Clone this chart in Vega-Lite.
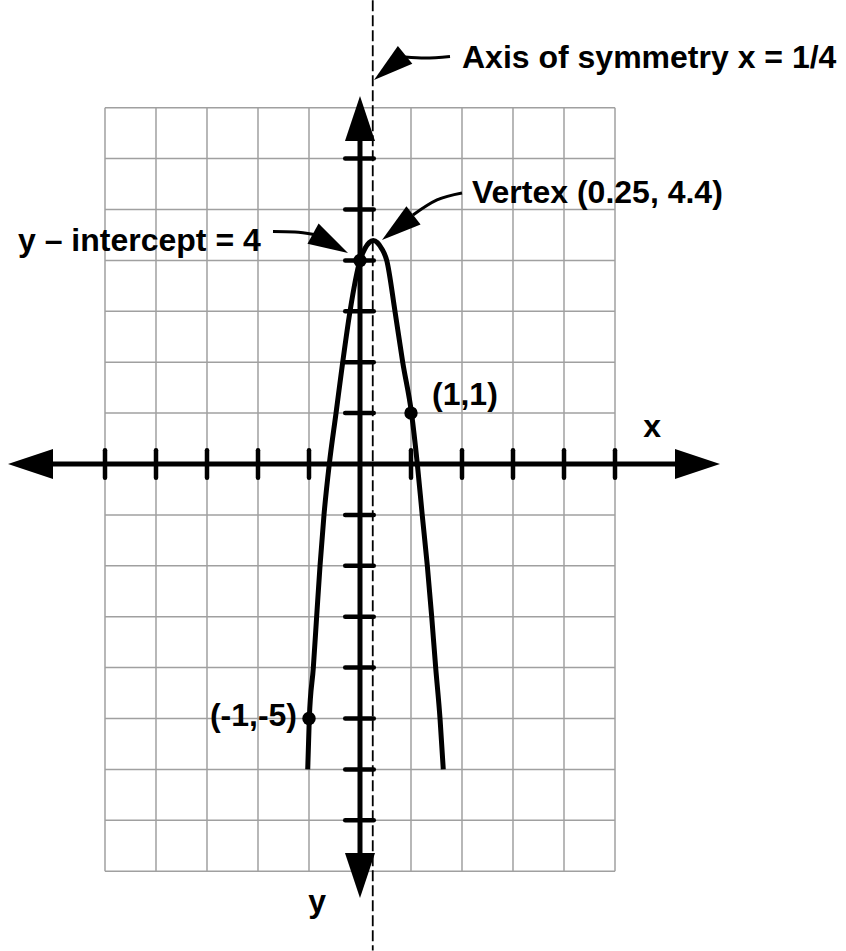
{
  "$schema": "https://vega.github.io/schema/vega-lite/v6.json",
  "width": 846,
  "height": 951,
  "autosize": {"type": "none"},
  "padding": 0,
  "background": "white",
  "config": {"view": {"stroke": null}},
  "datasets": {
    "gridX": [{"v": -5}, {"v": -4}, {"v": -3}, {"v": -2}, {"v": -1}, {"v": 0}, {"v": 1}, {"v": 2}, {"v": 3}, {"v": 4}, {"v": 5}],
    "gridY": [{"v": -8}, {"v": -7}, {"v": -6}, {"v": -5}, {"v": -4}, {"v": -3}, {"v": -2}, {"v": -1}, {"v": 0}, {"v": 1}, {"v": 2}, {"v": 3}, {"v": 4}, {"v": 5}, {"v": 6}, {"v": 7}],
    "ticksX": [{"v": -5}, {"v": -4}, {"v": -3}, {"v": -2}, {"v": -1}, {"v": 1}, {"v": 2}, {"v": 3}, {"v": 4}, {"v": 5}],
    "ticksY": [{"v": -7}, {"v": -6}, {"v": -5}, {"v": -4}, {"v": -3}, {"v": -2}, {"v": -1}, {"v": 1}, {"v": 2}, {"v": 3}, {"v": 4}, {"v": 5}, {"v": 6}],
    "axes": [
      {"name": "x", "x": -6.6, "x2": 6.7, "y": 0, "y2": 0},
      {"name": "y", "x": 0, "x2": 0, "y": 6.9, "y2": -8.2}
    ],
    "symmetry": [{"x": 0.25}],
    "curve": [
      {"x": -1.025, "y": -6}, {"x": -0.994, "y": -5}, {"x": -0.915, "y": -4}, {"x": -0.85, "y": -3},
      {"x": -0.784, "y": -2}, {"x": -0.706, "y": -1}, {"x": -0.602, "y": 0}, {"x": -0.47, "y": 1},
      {"x": -0.339, "y": 2}, {"x": -0.196, "y": 3}, {"x": 0, "y": 4}, {"x": 0.1, "y": 4.24},
      {"x": 0.18, "y": 4.35}, {"x": 0.26, "y": 4.39}, {"x": 0.34, "y": 4.35}, {"x": 0.42, "y": 4.24},
      {"x": 0.524, "y": 4}, {"x": 0.686, "y": 3}, {"x": 0.837, "y": 2}, {"x": 1.01, "y": 1},
      {"x": 1.124, "y": 0}, {"x": 1.22, "y": -1}, {"x": 1.32, "y": -2}, {"x": 1.406, "y": -3},
      {"x": 1.484, "y": -4}, {"x": 1.569, "y": -5}, {"x": 1.633, "y": -6}
    ],
    "shafts": [
      {"id": "sym", "o": 1, "x": 0.882, "y": 7.996}, {"id": "sym", "o": 2, "x": 1.275, "y": 7.976}, {"id": "sym", "o": 3, "x": 1.765, "y": 8.006},
      {"id": "vertex", "o": 1, "x": 1.039, "y": 4.892}, {"id": "vertex", "o": 2, "x": 1.51, "y": 5.187}, {"id": "vertex", "o": 3, "x": 2.0, "y": 5.324},
      {"id": "yint", "o": 1, "x": -1.706, "y": 4.568}, {"id": "yint", "o": 2, "x": -1.275, "y": 4.558}, {"id": "yint", "o": 3, "x": -0.902, "y": 4.509}
    ],
    "axisHeads": [
      {"x": 7.059, "y": 0, "dir": 0},
      {"x": -6.902, "y": 0, "dir": 180},
      {"x": 0, "y": 7.23, "dir": 270},
      {"x": 0, "y": -8.527, "dir": 90}
    ],
    "noteHeads": [
      {"x": 0.2745, "y": 7.544, "dir": 141},
      {"x": 0.431, "y": 4.401, "dir": 142},
      {"x": -0.235, "y": 4.145, "dir": 29}
    ],
    "dots": [{"x": 0, "y": 4}, {"x": 1, "y": 1}, {"x": -1, "y": -5}],
    "labelsLeft": [
      {"label": "Axis of symmetry x = 1/4", "x": 2.0, "y": 7.78},
      {"label": "Vertex (0.25, 4.4)", "x": 2.196, "y": 5.118},
      {"label": "y – intercept = 4", "x": -6.706, "y": 4.185},
      {"label": "(1,1)", "x": 1.412, "y": 1.159},
      {"label": "x", "x": 5.555, "y": 0.53},
      {"label": "y", "x": -1.014, "y": -8.8}
    ],
    "labelsRight": [
      {"label": "(-1,-5)", "x": -1.235, "y": -5.147}
    ]
  },
  "layer": [
    {
      "data": {"name": "gridX"},
      "mark": {"type": "rule", "stroke": "#a0a0a0", "strokeWidth": 1.5},
      "encoding": {
        "x": {"field": "v", "type": "quantitative", "scale": {"domain": [-7.0588, 9.5294], "nice": false, "zero": false}, "axis": null},
        "y": {"datum": -8, "type": "quantitative", "scale": {"domain": [-9.5678, 9.1159], "nice": false, "zero": false}, "axis": null},
        "y2": {"datum": 7}
      }
    },
    {
      "data": {"name": "gridY"},
      "mark": {"type": "rule", "stroke": "#a0a0a0", "strokeWidth": 1.5},
      "encoding": {
        "y": {"field": "v", "type": "quantitative", "scale": {"domain": [-9.5678, 9.1159], "nice": false, "zero": false}, "axis": null},
        "x": {"datum": -5, "type": "quantitative", "scale": {"domain": [-7.0588, 9.5294], "nice": false, "zero": false}, "axis": null},
        "x2": {"datum": 5}
      }
    },
    {
      "data": {"name": "axes"},
      "mark": {"type": "rule", "stroke": "black", "strokeWidth": 5},
      "encoding": {
        "x": {"field": "x", "type": "quantitative", "scale": {"domain": [-7.0588, 9.5294], "nice": false, "zero": false}, "axis": null},
        "x2": {"field": "x2"},
        "y": {"field": "y", "type": "quantitative", "scale": {"domain": [-9.5678, 9.1159], "nice": false, "zero": false}, "axis": null},
        "y2": {"field": "y2"}
      }
    },
    {
      "data": {"name": "ticksX"},
      "mark": {"type": "rule", "stroke": "black", "strokeWidth": 4.5, "strokeCap": "round"},
      "encoding": {
        "x": {"field": "v", "type": "quantitative", "scale": {"domain": [-7.0588, 9.5294], "nice": false, "zero": false}, "axis": null},
        "y": {"datum": -0.27, "type": "quantitative", "scale": {"domain": [-9.5678, 9.1159], "nice": false, "zero": false}, "axis": null},
        "y2": {"datum": 0.27}
      }
    },
    {
      "data": {"name": "ticksY"},
      "mark": {"type": "rule", "stroke": "black", "strokeWidth": 4.5, "strokeCap": "round"},
      "encoding": {
        "y": {"field": "v", "type": "quantitative", "scale": {"domain": [-9.5678, 9.1159], "nice": false, "zero": false}, "axis": null},
        "x": {"datum": -0.29, "type": "quantitative", "scale": {"domain": [-7.0588, 9.5294], "nice": false, "zero": false}, "axis": null},
        "x2": {"datum": 0.27}
      }
    },
    {
      "data": {"name": "curve"},
      "mark": {"type": "line", "stroke": "black", "strokeWidth": 5, "interpolate": "monotone"},
      "encoding": {
        "x": {"field": "x", "type": "quantitative", "scale": {"domain": [-7.0588, 9.5294], "nice": false, "zero": false}, "axis": null},
        "y": {"field": "y", "type": "quantitative", "scale": {"domain": [-9.5678, 9.1159], "nice": false, "zero": false}, "axis": null}
      }
    },
    {
      "data": {"name": "symmetry"},
      "mark": {"type": "rule", "stroke": "black", "strokeWidth": 1.8, "strokeDash": [11, 4]},
      "encoding": {
        "x": {"field": "x", "type": "quantitative", "scale": {"domain": [-7.0588, 9.5294], "nice": false, "zero": false}, "axis": null},
        "y": {"datum": 9.11, "type": "quantitative", "scale": {"domain": [-9.5678, 9.1159], "nice": false, "zero": false}, "axis": null},
        "y2": {"datum": -9.56}
      }
    },
    {
      "data": {"name": "shafts"},
      "mark": {"type": "line", "stroke": "black", "strokeWidth": 3, "interpolate": "monotone"},
      "encoding": {
        "x": {"field": "x", "type": "quantitative", "scale": {"domain": [-7.0588, 9.5294], "nice": false, "zero": false}, "axis": null},
        "y": {"field": "y", "type": "quantitative", "scale": {"domain": [-9.5678, 9.1159], "nice": false, "zero": false}, "axis": null},
        "detail": {"field": "id", "type": "nominal"},
        "order": {"field": "o", "type": "quantitative"}
      }
    },
    {
      "data": {"name": "axisHeads"},
      "mark": {"type": "point", "shape": "M0,0L-2,-0.667L-2,0.667Z", "filled": true, "fill": "black", "strokeWidth": 0, "size": 2025, "opacity": 1},
      "encoding": {
        "x": {"field": "x", "type": "quantitative", "scale": {"domain": [-7.0588, 9.5294], "nice": false, "zero": false}, "axis": null},
        "y": {"field": "y", "type": "quantitative", "scale": {"domain": [-9.5678, 9.1159], "nice": false, "zero": false}, "axis": null},
        "angle": {"field": "dir", "type": "quantitative", "scale": null}
      }
    },
    {
      "data": {"name": "noteHeads"},
      "mark": {"type": "point", "shape": "M0,0L-2,-0.575L-2,0.575Z", "filled": true, "fill": "black", "strokeWidth": 0, "size": 1600, "opacity": 1},
      "encoding": {
        "x": {"field": "x", "type": "quantitative", "scale": {"domain": [-7.0588, 9.5294], "nice": false, "zero": false}, "axis": null},
        "y": {"field": "y", "type": "quantitative", "scale": {"domain": [-9.5678, 9.1159], "nice": false, "zero": false}, "axis": null},
        "angle": {"field": "dir", "type": "quantitative", "scale": null}
      }
    },
    {
      "data": {"name": "dots"},
      "mark": {"type": "point", "shape": "circle", "filled": true, "fill": "black", "strokeWidth": 0, "size": 180, "opacity": 1},
      "encoding": {
        "x": {"field": "x", "type": "quantitative", "scale": {"domain": [-7.0588, 9.5294], "nice": false, "zero": false}, "axis": null},
        "y": {"field": "y", "type": "quantitative", "scale": {"domain": [-9.5678, 9.1159], "nice": false, "zero": false}, "axis": null}
      }
    },
    {
      "data": {"name": "labelsLeft"},
      "mark": {"type": "text", "font": "Liberation Sans", "fontWeight": "bold", "fontSize": 32, "align": "left", "baseline": "alphabetic", "fill": "black"},
      "encoding": {
        "x": {"field": "x", "type": "quantitative", "scale": {"domain": [-7.0588, 9.5294], "nice": false, "zero": false}, "axis": null},
        "y": {"field": "y", "type": "quantitative", "scale": {"domain": [-9.5678, 9.1159], "nice": false, "zero": false}, "axis": null},
        "text": {"field": "label", "type": "nominal"}
      }
    },
    {
      "data": {"name": "labelsRight"},
      "mark": {"type": "text", "font": "Liberation Sans", "fontWeight": "bold", "fontSize": 32, "align": "right", "baseline": "alphabetic", "fill": "black"},
      "encoding": {
        "x": {"field": "x", "type": "quantitative", "scale": {"domain": [-7.0588, 9.5294], "nice": false, "zero": false}, "axis": null},
        "y": {"field": "y", "type": "quantitative", "scale": {"domain": [-9.5678, 9.1159], "nice": false, "zero": false}, "axis": null},
        "text": {"field": "label", "type": "nominal"}
      }
    }
  ]
}
